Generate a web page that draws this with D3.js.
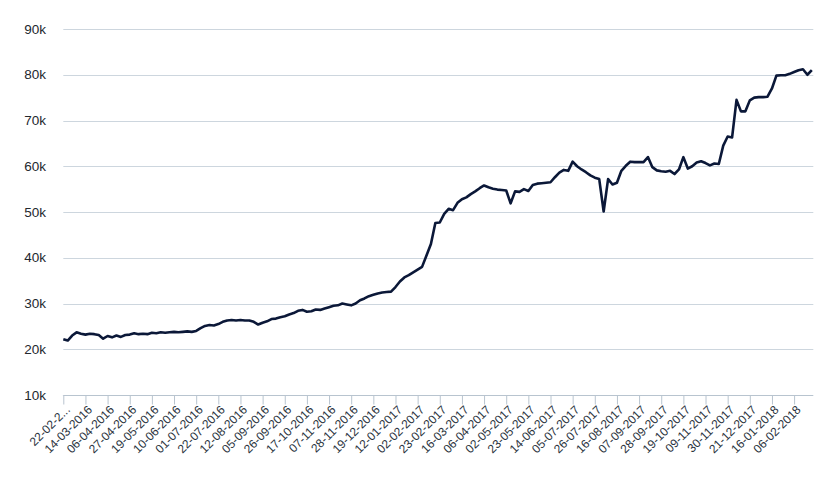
<!DOCTYPE html>
<html>
<head>
<meta charset="utf-8">
<script src="https://cdn.jsdelivr.net/npm/d3@7/dist/d3.min.js"></script>
<style>
  html, body { margin: 0; padding: 0; background: #ffffff; }
  svg { display: block; font-family: Arial, "Liberation Sans", Helvetica, sans-serif; }
</style>
</head>
<body>
<svg id="chart" width="835" height="479"></svg>
<script>
// ---- data ----
const tickLabels = [
  "22-02-2...", "14-03-2016", "06-04-2016", "27-04-2016", "19-05-2016", "10-06-2016",
  "01-07-2016", "22-07-2016", "12-08-2016", "05-09-2016", "26-09-2016", "17-10-2016",
  "07-11-2016", "28-11-2016", "19-12-2016", "12-01-2017", "02-02-2017", "23-02-2017",
  "16-03-2017", "06-04-2017", "02-05-2017", "23-05-2017", "14-06-2017", "05-07-2017",
  "26-07-2017", "16-08-2017", "07-09-2017", "28-09-2017", "19-10-2017", "09-11-2017",
  "30-11-2017", "21-12-2017", "16-01-2018", "06-02-2018"
];
const daysPerTick = 15;      // trading days between labelled ticks
const totalDays = 508;       // last trading-day index
const sampleStep = 3;        // values below are read every 3 trading days
const yTicks = [10000, 20000, 30000, 40000, 50000, 60000, 70000, 80000, 90000];
const values = [
  22200, 21900, 23000, 23700, 23400, 23200, 23400, 23300, 23100, 22300,
  22900, 22600, 23000, 22700, 23100, 23200, 23500, 23300, 23400, 23300,
  23600, 23500, 23700, 23600, 23700, 23800, 23700, 23800, 23900, 23800,
  24000, 24600, 25100, 25300, 25200, 25500, 26000, 26300, 26400, 26300,
  26400, 26300, 26300, 26000, 25400, 25800, 26100, 26600, 26700, 27000,
  27200, 27600, 27900, 28400, 28600, 28200, 28300, 28700, 28600, 28900,
  29200, 29500, 29600, 30000, 29800, 29600, 30000, 30700, 31100, 31600,
  31900, 32200, 32400, 32500, 32600, 33600, 34800, 35700, 36200, 36800,
  37400, 38000, 40500, 43000, 47600, 47700, 49600, 50700, 50400, 52000,
  52800, 53200, 53900, 54500, 55200, 55800, 55400, 55100, 54900, 54800,
  54700, 51900, 54500, 54400, 55000, 54600, 55900, 56200, 56300, 56400,
  56500, 57600, 58600, 59200, 59000, 61000, 60000, 59300, 58700, 58000,
  57500, 57200, 50100, 57200, 56000, 56400, 59000, 60100, 61000, 60900,
  60900, 60900, 62000, 59800, 59100, 58900, 58800, 59000, 58300, 59300,
  62000, 59500, 60000, 60800, 61100, 60700, 60200, 60600, 60500, 64500,
  66500, 66300, 74500, 72000, 72000, 74400, 75000, 75100, 75100, 75200,
  77000, 79800, 79900, 79900, 80200, 80600, 81000, 81200, 80000, 81000
];

// ---- layout ----
const svg = d3.select("#chart");
const x = d3.scaleLinear().domain([0, totalDays]).range([63.3, 813.3]);
const y = d3.scaleLinear().domain([10000, 90000]).range([395, 29]);

// gridlines
svg.append("g").selectAll("line")
  .data(yTicks.filter(v => v > 10000))
  .join("line")
  .attr("x1", x(0)).attr("x2", x(totalDays))
  .attr("y1", d => Math.round(y(d)) + 0.5).attr("y2", d => Math.round(y(d)) + 0.5)
  .attr("stroke", "#cdd6de").attr("stroke-width", 1);

// y labels
svg.append("g").selectAll("text")
  .data(yTicks)
  .join("text")
  .attr("x", 46).attr("y", d => y(d))
  .attr("dy", "0.35em")
  .attr("text-anchor", "end")
  .attr("font-size", 13.5)
  .attr("fill", "#23282e")
  .text(d => d3.format("d")(d / 1000) + "k");

// x axis
const tickIdx = tickLabels.map((_, i) => i * daysPerTick);
const xAxis = d3.axisBottom(x)
  .tickValues(tickIdx)
  .tickSize(9)
  .tickFormat((d, i) => tickLabels[i]);
const gx = svg.append("g")
  .attr("transform", `translate(0,${Math.round(y(10000)) + 0.5})`)
  .call(xAxis);
gx.select(".domain").attr("stroke", "#b8c4cf").attr("d", `M${x(0)},0.5V0H${x(totalDays)}`);
gx.selectAll(".tick line").attr("stroke", "#b8c4cf");
gx.selectAll(".tick text")
  .attr("font-size", 12)
  .attr("font-family", "Arial, 'Liberation Sans', sans-serif")
  .attr("fill", "#2b3440")
  .attr("text-anchor", "end")
  .attr("transform", "translate(4,12) rotate(-45)")
  .attr("x", 0).attr("y", 0).attr("dy", "0.35em");

// line
const pts = values.map((v, i) => [i * sampleStep, v]);
svg.append("path")
  .datum(pts)
  .attr("fill", "none")
  .attr("stroke", "#0b1838")
  .attr("stroke-width", 2.6)
  .attr("stroke-linejoin", "round")
  .attr("d", d3.line().x(d => x(d[0])).y(d => y(d[1])));
</script>
</body>
</html>
